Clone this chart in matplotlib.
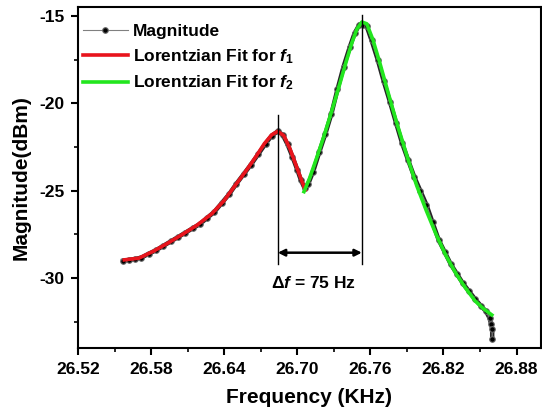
import matplotlib
matplotlib.use("Agg")
import matplotlib.pyplot as plt
from matplotlib.ticker import MultipleLocator

plt.rcParams['font.family'] = ['Liberation Sans', 'DejaVu Sans']
plt.rcParams['font.weight'] = 'bold'
plt.rcParams['axes.unicode_minus'] = False
plt.rcParams['mathtext.fontset'] = 'custom'
plt.rcParams['mathtext.rm'] = 'Liberation Sans:bold'
plt.rcParams['mathtext.bf'] = 'Liberation Sans:bold'
plt.rcParams['mathtext.it'] = 'Liberation Sans:italic:bold'

freq = [26.557, 26.562, 26.567, 26.572, 26.578, 26.584, 26.590, 26.596, 26.602, 26.608,
        26.614, 26.620, 26.626, 26.632, 26.638, 26.644, 26.650, 26.656, 26.662, 26.668,
        26.674, 26.679, 26.684, 26.688, 26.692, 26.696, 26.700, 26.703, 26.706, 26.709,
        26.713, 26.718, 26.723, 26.728, 26.733, 26.738, 26.743, 26.747, 26.751, 26.754,
        26.757, 26.761, 26.766, 26.771, 26.776, 26.781, 26.786, 26.791, 26.796, 26.801,
        26.806, 26.811, 26.816, 26.821, 26.826, 26.831, 26.836, 26.841, 26.846, 26.851,
        26.855, 26.858, 26.859, 26.860, 26.860]
mag = [-29.0, -28.95, -28.9, -28.82, -28.6, -28.4, -28.15, -27.9, -27.65, -27.4,
       -27.15, -26.9, -26.55, -26.2, -25.7, -25.2, -24.6, -24.05, -23.5, -22.9,
       -22.3, -21.85, -21.6, -21.8, -22.35, -23.05, -23.8, -24.4, -24.85, -24.6,
       -23.9, -22.8, -21.75, -20.6, -19.2, -17.9, -16.8, -16.0, -15.5, -15.5,
       -15.6, -16.4, -17.5, -18.75, -19.9, -21.1, -22.27, -23.25, -24.2, -25.0,
       -25.8, -26.8, -27.8, -28.5, -29.2, -29.75, -30.3, -30.75, -31.2, -31.6,
       -31.9, -32.3, -32.6, -32.9, -33.5]

# lorentzian fit around f1
fit1_f = [26.558, 26.570, 26.582, 26.594, 26.606, 26.618, 26.630, 26.640, 26.650, 26.658,
          26.666, 26.673, 26.679, 26.684, 26.689, 26.694, 26.699, 26.7035, 26.7065]
fit1_m = [-28.95, -28.85, -28.45, -27.98, -27.48, -26.95, -26.3, -25.55, -24.6, -23.85,
          -23.05, -22.3, -21.8, -21.6, -21.85, -22.6, -23.55, -24.4, -24.95]

# lorentzian fit around f2
fit2_f = [26.7055, 26.710, 26.716, 26.722, 26.728, 26.734, 26.740, 26.745, 26.749, 26.753,
          26.757, 26.762, 26.768, 26.775, 26.782, 26.790, 26.798, 26.806, 26.814, 26.822,
          26.830, 26.838, 26.846, 26.853, 26.8597]
fit2_m = [-25.05, -24.3, -23.1, -21.85, -20.5, -19.1, -17.65, -16.5, -15.75, -15.35,
          -15.45, -16.35, -17.75, -19.5, -21.2, -23.0, -24.7, -26.15, -27.5, -28.7,
          -29.7, -30.55, -31.3, -31.75, -32.1]

f1, f2 = 26.684, 26.753
line1_top, line2_top, lines_bottom = -20.66, -14.95, -29.2
arrow_y = -28.54

fig = plt.figure(figsize=(5.42, 4.2), dpi=100)
ax = fig.add_axes([0.144, 0.171, 0.854, 0.812])

ax.plot(freq, mag, color='black', lw=3.2, alpha=0.85, zorder=2)
ax.plot(freq, mag, color='gray', lw=0.8, marker='o', ms=4, mfc='black', mec='dimgray',
        mew=0.8, label='Magnitude', zorder=3)
ax.plot(fit1_f, fit1_m, color='#e8141c', lw=2.6, label=r'Lorentzian Fit for $\mathit{f}_\mathbf{1}$', zorder=4)
ax.plot(fit2_f, fit2_m, color='#22e61e', lw=2.6, label=r'Lorentzian Fit for $\mathit{f}_\mathbf{2}$', zorder=4)

ax.plot([f1, f1], [line1_top, lines_bottom], color='black', lw=1.0, zorder=5)
ax.plot([f2, f2], [line2_top, lines_bottom], color='black', lw=1.0, zorder=5)
ax.annotate('', xy=(f1, arrow_y), xytext=(f2, arrow_y),
            arrowprops=dict(arrowstyle='<|-|>', color='black', lw=1.8,
                            mutation_scale=10, shrinkA=0, shrinkB=0))
ax.text(26.7135, -30.25, r'Δ$\mathit{f}$ = 75 Hz', ha='center', va='center',
        fontsize=12.5, fontweight='bold')

ax.set_xlim(26.52, 26.90)
ax.set_ylim(-34, -14.5)
ax.xaxis.set_major_locator(MultipleLocator(0.06))
ax.xaxis.set_minor_locator(MultipleLocator(0.03))
ax.yaxis.set_major_locator(MultipleLocator(5))
ax.yaxis.set_minor_locator(MultipleLocator(2.5))
ax.xaxis.set_major_formatter(plt.FormatStrFormatter('%.2f'))
ax.tick_params(which='major', direction='out', length=5, width=1.5, labelsize=12.5, pad=5)
ax.tick_params(which='minor', direction='out', length=3, width=1.2)
for s in ax.spines.values():
    s.set_linewidth(1.5)

ax.set_xlabel('Frequency (KHz)', fontsize=15, fontweight='bold', labelpad=8)
ax.set_ylabel('Magnitude(dBm)', fontsize=15, fontweight='bold', labelpad=6)

ax.legend(loc='upper left', bbox_to_anchor=(-0.005, 0.97), frameon=False,
          handlelength=2.6, handletextpad=0.3, borderaxespad=0.1, borderpad=0.3,
          labelspacing=0.45, prop={'weight': 'bold', 'size': 12.5})

fig.savefig('out.png', dpi=100)
